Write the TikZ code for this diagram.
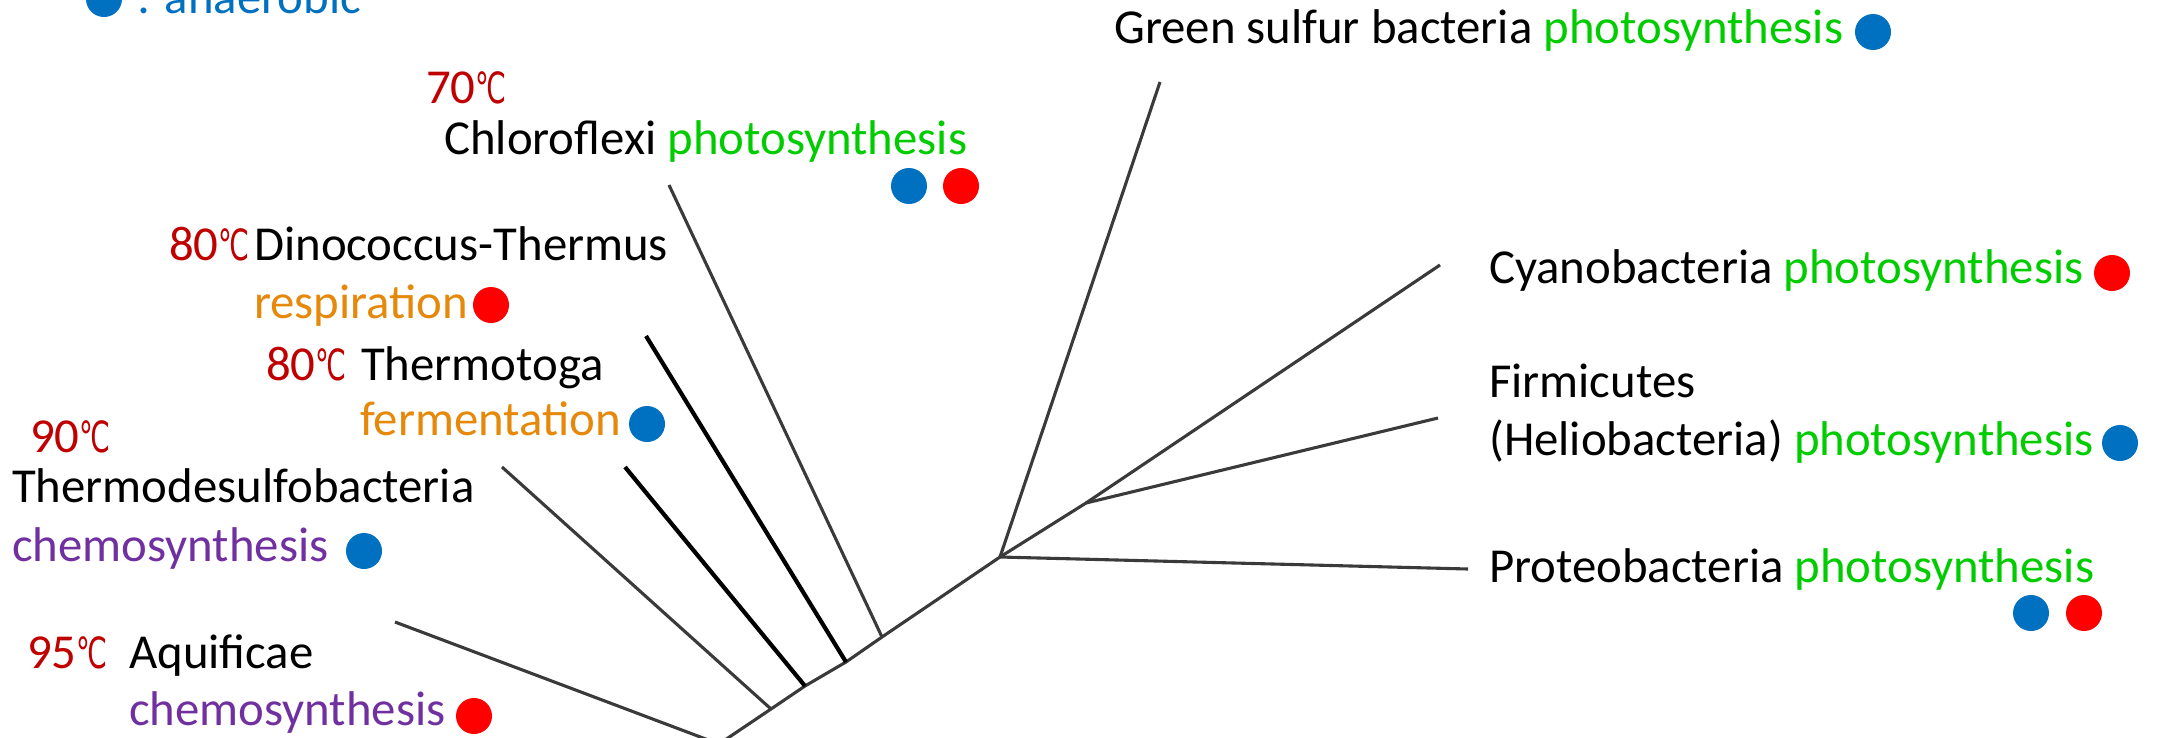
\documentclass[tikz,border=0pt]{standalone}
\usepackage{fontspec}
\setmainfont{Carlito}
\newfontfamily\dejavu{DejaVu Sans}
\definecolor{tempred}{HTML}{C00000}
\definecolor{photo}{HTML}{00CC00}
\definecolor{orangeT}{HTML}{E6880A}
\definecolor{purpleT}{HTML}{7030A0}
\definecolor{blueA}{HTML}{0070C0}
\definecolor{redA}{HTML}{FF0000}
\definecolor{branchgray}{HTML}{3A3A3A}
\newcommand\dgc{\resizebox{31pt}{0.88\height}{\dejavu ℃}}
\begin{document}
\begin{tikzpicture}[x=1pt,y=-1pt,
  txt/.style={inner sep=0pt, anchor=base west, font=\fontsize{48.8}{58}\selectfont},
  temp/.style={txt, text=tempred},
  dotblue/.style={circle, fill=blueA, minimum size=36pt, inner sep=0pt},
  dotred/.style={circle, fill=redA, minimum size=36pt, inner sep=0pt},
  graybranch/.style={draw=branchgray, line width=3.1pt},
  blackbranch/.style={draw=black, line width=4.2pt}]
\useasboundingbox (0,0) rectangle (2161,737);
\clip (0,0) rectangle (2161,737);
% tree coordinates
\coordinate (root) at (719,744);
\coordinate (j1) at (771,709);
\coordinate (j2) at (805,686);
\coordinate (j3) at (846,662);
\coordinate (j4) at (882,637);
\coordinate (j5) at (1000,557);
\coordinate (j6) at (1086,503);
\coordinate (rootdown) at (660,790);
\coordinate (lAqu) at (395,622);
\coordinate (lThd) at (502,467);
\coordinate (lTtg) at (625,467);
\coordinate (lDin) at (646,336);
\coordinate (lChl) at (669,185);
\coordinate (lGsb) at (1160,82);
\coordinate (lCya) at (1440,265);
\coordinate (lFir) at (1438,418);
\coordinate (lPro) at (1468,569);
% branches
\draw[graybranch] (rootdown) -- (root) -- (j1) -- (j2) -- (j3) -- (j4) -- (j5) -- (j6) -- (lCya);
\draw[graybranch] (root) -- (lAqu);
\draw[graybranch] (j1) -- (lThd);
\draw[blackbranch] (j2) -- (lTtg);
\draw[blackbranch] (j3) -- (lDin);
\draw[graybranch] (j4) -- (lChl);
\draw[graybranch] (j5) -- (lGsb);
\draw[graybranch] (j5) -- (lPro);
\draw[graybranch] (j6) -- (lFir);
% legend
\node[dotblue] (legdot) at (104,-1) {};
\node[txt, text=blueA] (legtxt) at (137,13) {: anaerobic};
% labels
\node[txt] (gsb) at (1114,43) {Green sulfur bacteria \textcolor{photo}{photosynthesis}};
\node[dotblue] (gsbd) at (1873,32) {};
\node[temp] (t70) at (426,103) {70\dgc};
\node[txt] (chl) at (444,154) {Chloroflexi \textcolor{photo}{photosynthesis}};
\node[dotblue] (chld1) at (909,186) {};
\node[dotred] (chld2) at (961,186) {};
\node[temp] (t80a) at (169,260) {80\dgc};
\node[txt] (din) at (254,260) {Dinococcus-Thermus};
\node[txt, text=orangeT] (resp) at (254,318) {respiration};
\node[dotred] (respd) at (491,305) {};
\node[temp] (t80b) at (266,380) {80\dgc};
\node[txt] (ttg) at (361,380) {Thermotoga};
\node[txt, text=orangeT] (ferm) at (360,435) {fermentation};
\node[dotblue] (fermd) at (647,424) {};
\node[temp] (t90) at (30,452) {90\dgc};
\node[txt] (thd) at (12,502) {Thermodesulfobacteria};
\node[txt, text=purpleT] (chem1) at (12,561) {chemosynthesis};
\node[dotblue] (chem1d) at (364,551) {};
\node[temp] (t95) at (27,668) {95\dgc};
\node[txt] (aqu) at (129,668) {Aquificae};
\node[txt, text=purpleT] (chem2) at (129,725) {chemosynthesis};
\node[dotred] (chem2d) at (474,716) {};
\node[txt] (cya) at (1489,283) {Cyanobacteria \textcolor{photo}{photosynthesis}};
\node[dotred] (cyad) at (2112,273) {};
\node[txt] (fir) at (1489,397) {Firmicutes};
\node[txt] (hel) at (1489,455) {(Heliobacteria) \textcolor{photo}{photosynthesis}};
\node[dotblue] (held) at (2120,443) {};
\node[txt] (pro) at (1489,582) {Proteobacteria \textcolor{photo}{photosynthesis}};
\node[dotblue] (prod1) at (2031,613) {};
\node[dotred] (prod2) at (2084,613) {};
\end{tikzpicture}
\end{document}
